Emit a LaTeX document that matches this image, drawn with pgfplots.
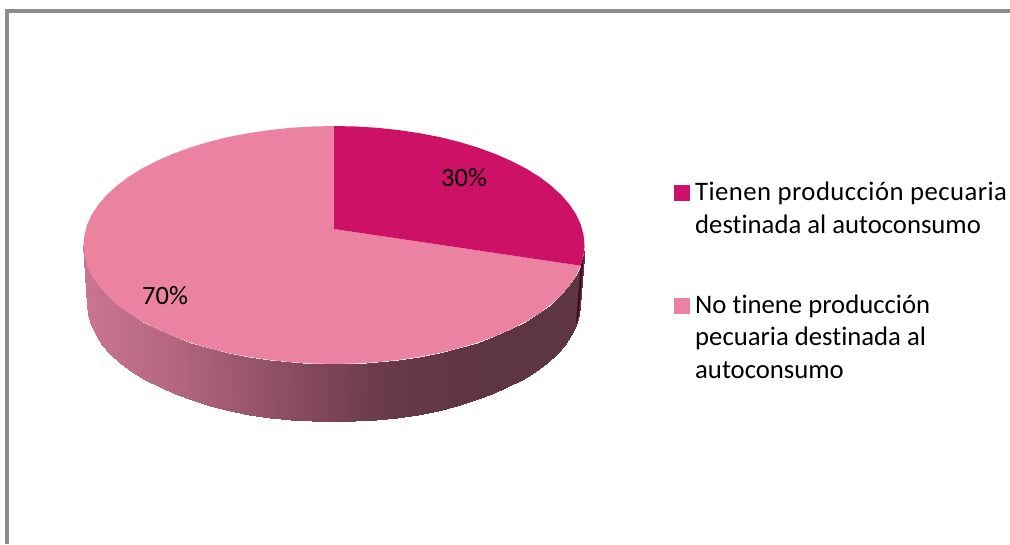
\documentclass[border=0pt]{standalone}
\usepackage{pgfplots}
\usepackage{fontspec}
\setmainfont[Ligatures=NoCommon]{Carlito}
\pgfplotsset{compat=1.18}
\definecolor{magentaslice}{RGB}{204,17,103}
\definecolor{pinkslice}{RGB}{236,130,162}
\definecolor{framegray}{RGB}{140,140,140}
\pgfplotstableread{
x y c
83.5 245 83
84.5 255.4 85
87.3 265.7 87
92 275.8 92
98.6 285.7 99
107 295.3 107
117.1 304.5 117
128.8 313.3 129
142.1 321.5 142
156.9 329.1 157
173 336.2 173
190.3 342.5 190
208.7 348.1 209
228.1 352.9 228
248.3 356.8 248
269.2 359.9 269
290.5 362.2 290
312.2 363.5 312
334 364 334
355.8 363.5 356
377.5 362.2 377
398.8 359.9 399
419.7 356.8 420
439.9 352.9 440
459.3 348.1 459
477.7 342.5 478
495 336.2 495
511.1 329.1 511
525.9 321.5 526
539.2 313.3 539
550.9 304.5 551
561 295.3 561
569.4 285.7 569
576 275.8 576
580.7 265.7 581
583.5 255.4 583
584.5 245 584
87.5 305 83
88.4 315.2 85
91.2 325.2 87
95.9 335.2 92
102.3 344.8 99
110.5 354.2 107
120.5 363.3 117
132 371.8 129
145.1 379.9 142
159.6 387.4 157
175.4 394.2 173
192.4 400.4 190
210.5 405.9 209
229.5 410.6 228
249.4 414.5 248
269.8 417.5 269
290.8 419.7 290
312.1 421.1 312
333.5 421.5 334
354.9 421.1 356
376.2 419.7 377
397.2 417.5 399
417.6 414.5 420
437.5 410.6 440
456.5 405.9 459
474.6 400.4 478
491.6 394.2 495
507.4 387.4 511
521.9 379.9 526
535 371.8 539
546.5 363.3 551
556.5 354.2 561
564.7 344.8 569
571.1 335.2 576
575.8 325.2 581
578.6 315.2 583
579.5 305 584
}\sidetable
\begin{document}
\begin{tikzpicture}
\begin{axis}[
  scale only axis, width=1010pt, height=544pt,
  xmin=0, xmax=1010, ymin=0, ymax=544, y dir=reverse,
  hide axis, clip=true,
  colormap={sidemap}{rgb255=(203,117,143) rgb255=(176,100,125) rgb255=(140,78,98) rgb255=(105,58,72) rgb255=(94,53,66) rgb255=(94,53,66)},
  point meta min=83, point meta max=584,
]
% page background
\addplot[fill=white, draw=none, forget plot] coordinates {(0,0) (1010,0) (1010,544) (0,544)} -- cycle;
% frame
\addplot[framegray, line width=3.2pt, forget plot] coordinates {(7,544) (7,11) (1010,11)};
% side wall
\addplot[surf, shader=interp, mesh/rows=2, mesh/cols=37, mesh/ordering=x varies, point meta=\thisrow{c}, forget plot]
  table[x=x, y=y] {\sidetable};
% side of the magenta slice, seen as a sliver
\addplot[fill=black!50!magentaslice!70!black, draw=none, forget plot] coordinates {(584.5,245) (583.5,255.4) (580.7,265.7) (575.8,325.2) (578.6,315.2) (579.5,305)} -- cycle;
% 70 % slice
\addplot[fill=pinkslice, draw=none, forget plot] coordinates {
(334,229) (580.7,265.7) (576,275.8) (569.4,285.7) (561,295.3) (550.9,304.5) (539.2,313.3) (525.9,321.5)
(511.1,329.1) (495,336.2) (477.7,342.5) (459.3,348.1) (439.9,352.9) (419.7,356.8) (398.8,359.9) (377.5,362.2)
(355.8,363.5) (334,364) (312.2,363.5) (290.5,362.2) (269.2,359.9) (248.3,356.8) (228.1,352.9) (208.7,348.1)
(190.3,342.5) (173,336.2) (156.9,329.1) (142.1,321.5) (128.8,313.3) (117.1,304.5) (107,295.3) (98.6,285.7)
(92,275.8) (87.3,265.7) (84.5,255.4) (83.5,245) (84.5,234.6) (87.3,224.3) (92,214.2) (98.6,204.3)
(107,194.7) (117.1,185.5) (128.8,176.7) (142.1,168.5) (156.9,160.9) (173,153.8) (190.3,147.5) (208.7,141.9)
(228.1,137.1) (248.3,133.2) (269.2,130.1) (290.5,127.8) (312.2,126.5) (334,126)
} -- cycle;
% 30 % slice
\addplot[fill=magentaslice, draw=none, forget plot] coordinates {
(334,229) (334,126) (355.8,126.5) (377.5,127.8) (398.8,130.1) (419.7,133.2) (439.9,137.1) (459.3,141.9)
(477.7,147.5) (495,153.8) (511.1,160.9) (525.9,168.5) (539.2,176.7) (550.9,185.5) (561,194.7) (569.4,204.3)
(576,214.2) (580.7,224.3) (583.5,234.6) (584.5,245) (583.5,255.4) (580.7,265.7)
} -- cycle;
% legend keys
\addplot[fill=magentaslice, draw=none, forget plot] coordinates {(674,185) (690,185) (690,201) (674,201)} -- cycle;
\addplot[fill=pinkslice, draw=none, forget plot] coordinates {(674,298) (690,298) (690,314) (674,314)} -- cycle;
\def\lab#1#2#3#4{\node[anchor=base west, inner sep=0pt, font=\fontsize{#4}{30}\selectfont, text=black] at (axis cs:#1,#2) {#3};}
\lab{441}{186}{30\%}{26.5}
\lab{142}{304}{70\%}{26.5}
\lab{695}{200.7}{\addfontfeature{LetterSpace=1.7}Tienen producción pecuaria}{26.7}
\lab{695}{233.5}{destinada al autoconsumo}{26.7}
\lab{695}{313.3}{No tinene producción}{26.7}
\lab{695}{345}{pecuaria destinada al}{26.7}
\lab{695}{378}{autoconsumo}{26.7}
\end{axis}
\end{tikzpicture}
\end{document}
